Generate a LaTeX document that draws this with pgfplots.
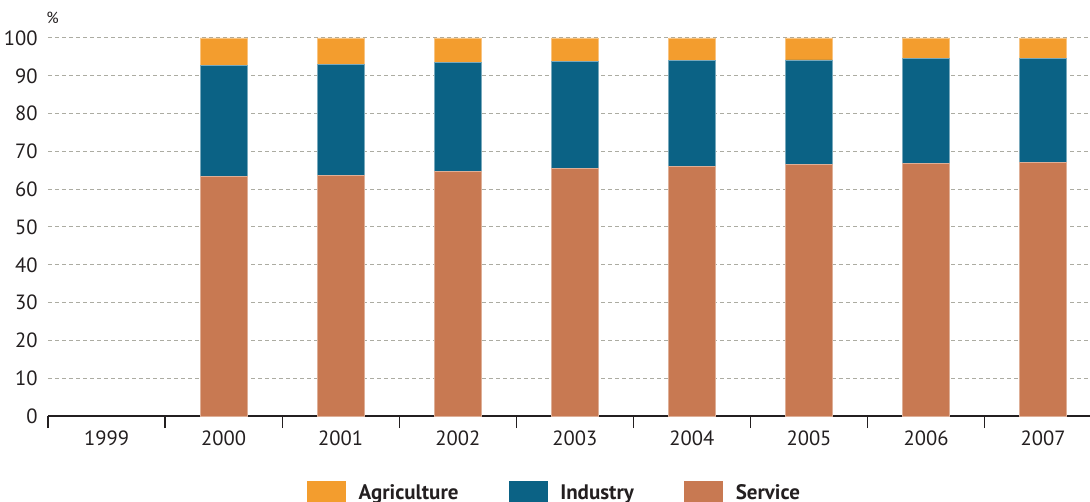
\documentclass[border=0pt]{standalone}
\usepackage{pgfplots}
\pgfplotsset{compat=1.18}
\usepackage{fontspec}
\setmainfont{PT Sans}
\definecolor{agri}{RGB}{243,157,46}
\definecolor{ind}{RGB}{11,98,133}
\definecolor{serv}{RGB}{200,121,82}
\definecolor{txt}{RGB}{35,31,32}
\definecolor{gridc}{RGB}{172,172,162}
\begin{document}
\begin{tikzpicture}
\useasboundingbox (-24pt,-43pt) rectangle (521pt,208pt);
\begin{axis}[
  at={(0,0)}, anchor=south west,
  scale only axis, width=521pt, height=189pt,
  ybar stacked, bar width=0.4,
  xmin=-0.5, xmax=8.4, ymin=0, ymax=100,
  xtick={0,...,8},
  xticklabels={1999,2000,2001,2002,2003,2004,2005,2006,2007},
  minor xtick={-0.5,0.5,...,7.5},
  ytick={0,10,...,100},
  /pgf/number format/assume math mode=true,
  tick align=outside,
  major tick length=0pt, minor tick length=6pt,
  minor tick style={line width=0.6pt, draw=txt},
  axis x line*=bottom, axis y line*=left,
  x axis line style={-, line width=1.1pt, draw=txt},
  y axis line style={draw=none},
  ymajorgrids,
  grid style={dash pattern=on 2pt off 1.5pt, line width=0.5pt, draw=gridc},
  tick label style={font=\fontsize{10.3}{12}\selectfont, text=txt},
  x tick label style={yshift=-3.9pt},
  y tick label style={xshift=-1.7pt},
  legend columns=3,
  legend style={draw=none, fill=none, at={(0.487,0)}, anchor=north, yshift=-32pt,
    inner sep=0pt, font=\fontsize{10.5}{12}\selectfont\bfseries, text=txt,
    /tikz/every even column/.append style={column sep=23pt},
    /tikz/every odd column/.append style={column sep=4.5pt}},
  after end axis/.code={
    \node[anchor=base west, inner sep=0pt, text=txt, font=\fontsize{8}{9}\selectfont, xshift=-1pt, yshift=7pt] at (rel axis cs:0,1) {\%};
  },
]
\addlegendimage{legend image code/.code={\fill[agri] (0pt,-5.75pt) rectangle (19pt,5.75pt);}}
\addlegendentry{Agriculture}
\addlegendimage{legend image code/.code={\fill[ind] (0pt,-5.75pt) rectangle (19pt,5.75pt);}}
\addlegendentry{Industry}
\addlegendimage{legend image code/.code={\fill[serv] (0pt,-5.75pt) rectangle (19pt,5.75pt);}}
\addlegendentry{Service}
\addplot[fill=serv, draw=serv!60!white, line width=0.4pt, forget plot] coordinates {
  (1,63.3) (2,63.7) (3,64.6) (4,65.4) (5,66.1) (6,66.6) (7,66.9) (8,67.0)};
\addplot[fill=ind, draw=ind!55!white, line width=0.4pt, forget plot] coordinates {
  (1,29.5) (2,29.4) (3,28.9) (4,28.3) (5,28.0) (6,27.6) (7,27.6) (8,27.7)};
\addplot[fill=agri, draw=agri!60!white, line width=0.4pt, forget plot] coordinates {
  (1,7.2) (2,6.9) (3,6.5) (4,6.3) (5,5.9) (6,5.8) (7,5.5) (8,5.3)};
\end{axis}
\end{tikzpicture}
\end{document}
